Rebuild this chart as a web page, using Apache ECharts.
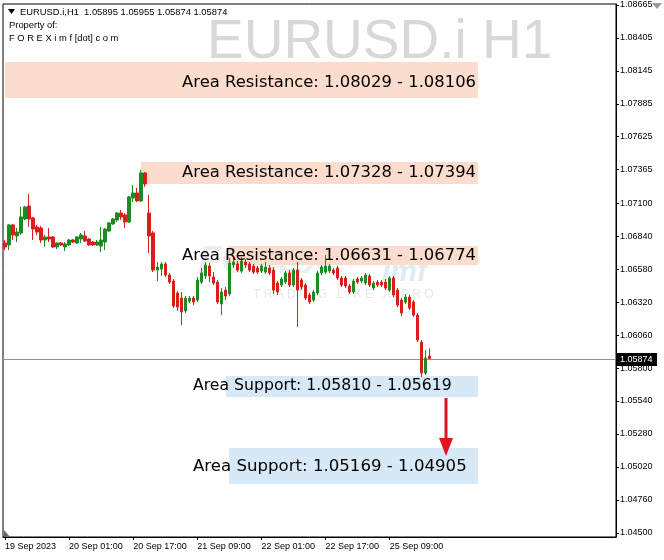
<!DOCTYPE html>
<html><head><meta charset="utf-8">
<script src="https://cdn.jsdelivr.net/npm/echarts@6/dist/echarts.min.js"></script>
<style>html,body{margin:0;padding:0;background:#fff}#c{width:664px;height:560px}</style>
</head><body><div id="c"></div>
<script>
// ---- data (EURUSD.i H1) ----
const opens=[1.06787,1.06771,1.06929,1.06842,1.06866,1.06976,1.07079,1.06984,1.06913,1.06905,
1.06810,1.06834,1.06834,1.06755,1.06787,1.06755,1.06771,1.06810,1.06787,1.06818,
1.06842,1.06818,1.06794,1.06771,1.06763,1.06794,1.06881,1.06937,1.06968,1.07023,
1.07008,1.06952,1.07142,1.07181,1.07118,1.07339,1.07023,1.06866,1.06573,1.06581,
1.06621,1.06534,1.06486,1.06392,1.06352,1.06250,1.06328,1.06352,1.06336,1.06478,
1.06526,1.06605,1.06518,1.06478,1.06305,1.06415,1.06384,1.06613,1.06621,1.06565,
1.06636,1.06621,1.06605,1.06589,1.06565,1.06557,1.06589,1.06573,1.06471,1.06455,
1.06478,1.06550,1.06455,1.06573,1.06494,1.06455,1.06376,1.06336,1.06392,1.06550,
1.06557,1.06565,1.06573,1.06589,1.06510,1.06510,1.06447,1.06400,1.06502,1.06486,
1.06471,1.06526,1.06431,1.06478,1.06478,1.06478,1.06415,1.06510,1.06415,1.06336,
1.06321,1.06360,1.06321,1.06218,1.06005,1.05760,1.05895];
const closes=[1.06755,1.06929,1.06850,1.06873,1.06992,1.07071,1.06976,1.06897,1.06873,1.06810,
1.06834,1.06818,1.06755,1.06787,1.06771,1.06779,1.06810,1.06794,1.06834,1.06850,
1.06802,1.06771,1.06771,1.06794,1.06810,1.06897,1.06945,1.06976,1.07023,1.06992,
1.06952,1.07150,1.07181,1.07118,1.07339,1.07252,1.06842,1.06573,1.06597,1.06621,
1.06534,1.06478,1.06289,1.06281,1.06242,1.06352,1.06352,1.06321,1.06494,1.06550,
1.06613,1.06526,1.06471,1.06321,1.06400,1.06368,1.06629,1.06636,1.06573,1.06644,
1.06613,1.06573,1.06557,1.06557,1.06605,1.06597,1.06550,1.06415,1.06400,1.06502,
1.06550,1.06455,1.06573,1.06415,1.06439,1.06352,1.06321,1.06400,1.06550,1.06597,
1.06605,1.06605,1.06550,1.06510,1.06455,1.06447,1.06400,1.06486,1.06478,1.06510,
1.06534,1.06455,1.06471,1.06455,1.06455,1.06431,1.06510,1.06376,1.06297,1.06234,
1.06360,1.06273,1.06218,1.06021,1.05760,1.05879,1.05874];
const lows=[1.06731,1.06731,1.06810,1.06794,1.06850,1.06968,1.06913,1.06810,1.06850,1.06787,
1.06755,1.06794,1.06747,1.06739,1.06763,1.06723,1.06763,1.06787,1.06779,1.06787,
1.06794,1.06763,1.06763,1.06763,1.06715,1.06731,1.06873,1.06929,1.06952,1.06968,
1.06905,1.06945,1.07110,1.07110,1.07110,1.07229,1.06708,1.06557,1.06486,1.06526,
1.06518,1.06463,1.06273,1.06250,1.06139,1.06234,1.06313,1.06297,1.06321,1.06463,
1.06502,1.06478,1.06455,1.06305,1.06218,1.06336,1.06368,1.06589,1.06557,1.06550,
1.06589,1.06557,1.06542,1.06542,1.06550,1.06542,1.06534,1.06384,1.06376,1.06439,
1.06463,1.06439,1.06439,1.06123,1.06415,1.06336,1.06305,1.06321,1.06376,1.06534,
1.06542,1.06550,1.06534,1.06494,1.06439,1.06431,1.06384,1.06384,1.06463,1.06471,
1.06455,1.06439,1.06415,1.06439,1.06439,1.06415,1.06400,1.06360,1.06281,1.06210,
1.06305,1.06258,1.06202,1.06005,1.05729,1.05745,1.05874];
const highs=[1.06810,1.06937,1.06937,1.06905,1.07071,1.07079,1.07173,1.06992,1.06929,1.06921,
1.06850,1.06905,1.06842,1.06794,1.06794,1.06794,1.06818,1.06818,1.06842,1.06866,
1.06881,1.06826,1.06802,1.06810,1.06913,1.06905,1.06952,1.06984,1.07031,1.07047,
1.07023,1.07158,1.07244,1.07221,1.07363,1.07347,1.07165,1.06881,1.06636,1.06636,
1.06636,1.06550,1.06502,1.06407,1.06400,1.06368,1.06368,1.06368,1.06518,1.06589,
1.06636,1.06629,1.06557,1.06494,1.06431,1.06439,1.06668,1.06668,1.06644,1.06676,
1.06660,1.06636,1.06621,1.06605,1.06621,1.06636,1.06613,1.06597,1.06486,1.06518,
1.06565,1.06573,1.06589,1.06636,1.06510,1.06471,1.06392,1.06415,1.06565,1.06613,
1.06692,1.06621,1.06589,1.06605,1.06526,1.06526,1.06463,1.06502,1.06518,1.06526,
1.06550,1.06542,1.06486,1.06494,1.06494,1.06502,1.06526,1.06526,1.06431,1.06352,
1.06384,1.06376,1.06336,1.06234,1.06021,1.05942,1.05955];
const tickLabels=['19 Sep 2023','20 Sep 01:00','20 Sep 17:00','21 Sep 09:00','22 Sep 01:00','22 Sep 17:00','25 Sep 09:00'];
const barsPerTick=16;
const totalSlots=153; // bars + empty chart shift on the right
const yTicks=[1.04500,1.04760,1.05020,1.05280,1.05540,1.05800,1.06060,1.06320,1.06580,1.06840,1.07100,1.07365,1.07625,1.07885,1.08145,1.08405,1.08665];
const yMin=1.04467, yMax=1.08672;
const lastPrice=1.05874;
const resistanceTexts=['Area Resistance: 1.08029 - 1.08106','Area Resistance: 1.07328 - 1.07394','Area Resistance: 1.06631 - 1.06774'];
const supportTexts=['Area Support: 1.05810 - 1.05619','Area Support: 1.05169 - 1.04905'];

const cats=Array.from({length:totalSlots},(_,i)=>String(i));
const candles=opens.map((o,i)=>[o,closes[i],lows[i],highs[i]]);
const isTick=(i)=> i%barsPerTick===0 && i/barsPerTick<tickLabels.length;
const n=opens.length-1;
const header='EURUSD.i,H1  '+[opens[n],highs[n],lows[n],closes[n]].map(v=>v.toFixed(5)).join(' ');

const GREEN='#1e8a22', RED='#d81f1c';
const FF='"Liberation Sans", Arial, sans-serif';
const small={fontFamily:FF,fontSize:9,color:'#000'};
const zf=(s)=>s+'px "DejaVu Sans", sans-serif';
const G={left:3,right:48,top:4,bottom:23};

const baseGraphics=[
  // watermark
  {type:'text',z:1,left:198,top:244,style:{text:'FOREX',font:'bold italic 38px "Liberation Sans", sans-serif',fill:'rgba(120,130,150,0.14)'}},
  {type:'text',z:1,left:382,top:258,style:{text:'imf',font:'bold italic 30px "Liberation Sans", sans-serif',fill:'rgba(120,175,220,0.25)'}},
  {type:'text',z:1,left:253,top:289,style:{text:'T R A D I N G   L I K E   A   P R O',font:'12px "Liberation Sans", sans-serif',fill:'rgba(150,150,150,0.22)'}},
  // title
  {type:'text',z:1,left:207,top:15,style:{text:'EURUSD.i H1',font:'55px "Liberation Sans", sans-serif',fill:'#d8d8d8'}},
  // zone backgrounds
  {type:'rect',z:1,shape:{x:5,y:62,width:473,height:36},style:{fill:'#fbdccd'}},
  {type:'rect',z:1,shape:{x:141,y:162,width:337,height:22},style:{fill:'#fbdccd'}},
  {type:'rect',z:1,shape:{x:228,y:246,width:250,height:19},style:{fill:'#fbdccd'}},
  {type:'rect',z:1,shape:{x:226,y:376,width:252,height:21},style:{fill:'#d7e8f7'}},
  {type:'rect',z:1,shape:{x:229,y:448,width:249,height:36},style:{fill:'#d7e8f7'}},
  // zone texts
  {type:'text',z:50,x:476,y:83,style:{text:resistanceTexts[0],font:zf(16.4),fill:'#000',align:'right',verticalAlign:'middle'}},
  {type:'text',z:50,x:476,y:173,style:{text:resistanceTexts[1],font:zf(16.4),fill:'#000',align:'right',verticalAlign:'middle'}},
  {type:'text',z:50,x:476,y:256,style:{text:resistanceTexts[2],font:zf(16.4),fill:'#000',align:'right',verticalAlign:'middle'}},
  {type:'text',z:50,x:193,y:386,style:{text:supportTexts[0],font:zf(15.7),fill:'#000',align:'left',verticalAlign:'middle'}},
  {type:'text',z:50,x:193,y:467,style:{text:supportTexts[1],font:zf(16.6),fill:'#000',align:'left',verticalAlign:'middle'}},
  // arrow
  {type:'line',z:50,shape:{x1:446,y1:398,x2:446,y2:442},style:{stroke:'#e0141e',lineWidth:3}},
  {type:'polygon',z:50,shape:{points:[[439,438],[453,438],[446,456]]},style:{fill:'#e0141e'}},
  // header
  {type:'polygon',z:50,shape:{points:[[8,9],[15,9],[11.5,14]]},style:{fill:'#000'}},
  {type:'text',z:50,x:20,y:12,style:{text:header,font:'9.4px '+FF,fill:'#000',verticalAlign:'middle'}},
  {type:'text',z:50,x:9,y:25,style:{text:'Property of:',font:'9.4px '+FF,fill:'#000',verticalAlign:'middle'}},
  {type:'text',z:50,x:9,y:38,style:{text:'F O R E X i m f [dot] c o m',font:'9.4px '+FF,fill:'#000',verticalAlign:'middle'}},
  // chart-shift markers
  {type:'polygon',z:50,shape:{points:[[652,3],[662,3],[657,9]]},style:{fill:'#9a9a9a'}},
  {type:'polygon',z:50,shape:{points:[[4,530],[4,537],[10,537]]},style:{fill:'#6a6a6a'}}
];

const chart=echarts.init(document.getElementById('c'),null,{renderer:'canvas'});
chart.setOption({
  animation:false,
  backgroundColor:'#fff',
  grid:Object.assign({show:true,borderColor:'#000',borderWidth:1,backgroundColor:'#fff'},G),
  xAxis:{type:'category',data:cats,boundaryGap:true,
    axisLine:{show:true,lineStyle:{color:'#000',width:1}},
    axisTick:{show:true,alignWithLabel:true,interval:(i)=>isTick(i),length:3,lineStyle:{color:'#000'}},
    axisLabel:Object.assign({interval:(i)=>isTick(i),formatter:(v,i)=>tickLabels[i/barsPerTick]||'',align:'left',margin:5},small),
    splitLine:{show:false}},
  yAxis:{type:'value',position:'right',min:yMin,max:yMax,
    axisLine:{show:true,lineStyle:{color:'#000',width:1}},
    axisTick:{show:true,customValues:yTicks,length:3,lineStyle:{color:'#000'}},
    axisLabel:Object.assign({customValues:yTicks,formatter:(v)=>v.toFixed(5),margin:4},small),
    splitLine:{show:false}},
  series:[
    {type:'candlestick',data:candles,barWidth:3,z:5,
      itemStyle:{color:GREEN,color0:RED,borderColor:GREEN,borderColor0:RED,borderWidth:1}}
  ],
  graphic:baseGraphics
});
// current price line, placed through the y axis scale
const py=Math.round(chart.convertToPixel({yAxisIndex:0},lastPrice))+0.5;
const x0=G.left, x1=664-G.right;
chart.setOption({graphic:baseGraphics.concat([
  {type:'line',z:3,shape:{x1:x0,y1:py,x2:x1,y2:py},style:{stroke:'#8a9898',lineWidth:1}},
  {type:'rect',z:60,shape:{x:x1+1,y:py-6.5,width:40,height:13},style:{fill:'#000'}},
  {type:'text',z:61,x:x1+4,y:py,style:{text:lastPrice.toFixed(5),font:'9px '+FF,fill:'#fff',verticalAlign:'middle'}}
])});
</script></body></html>
